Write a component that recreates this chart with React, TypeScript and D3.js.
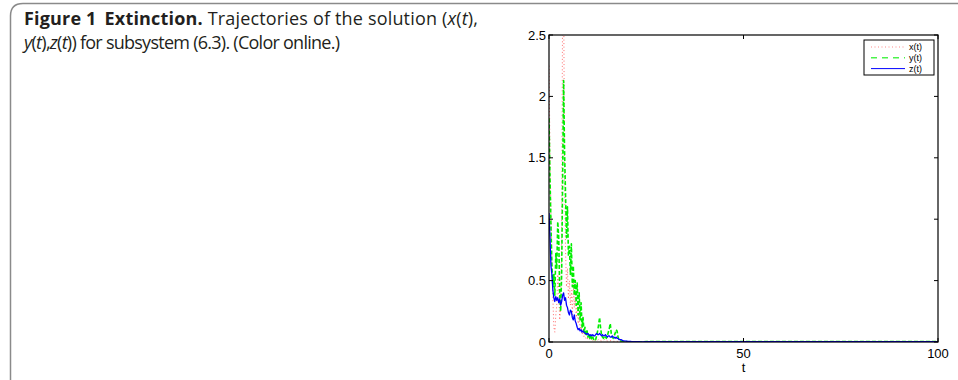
import React from "react";
import * as d3 from "d3";

// Sampling interval of the early, transient part of the trajectories
const STEP = 0.25;

// x(t), y(t), z(t) sampled every STEP from t = 0
const xEarly = [
  2.25, 1.55, 1.05, 0.62, 0.35, 0.12, 0.08, 0.22, 0.3, 0.55, 0.42, 0.18, 0.28, 0.85, 2.8, 2.95,
  1.4, 0.75, 0.45, 0.6, 0.35, 0.5, 0.3, 0.42, 0.22, 0.48, 0.28, 0.4, 0.2, 0.32, 0.15, 0.25,
  0.1, 0.14, 0.06, 0.1, 0.04, 0.06, 0.03, 0.04, 0.02, 0.03, 0.02, 0.015, 0.02, 0.01, 0.015, 0.01,
  0.012, 0.01, 0.015, 0.02, 0.012, 0.01, 0.008, 0.01, 0.012, 0.02, 0.015, 0.01, 0.008, 0.006, 0.008, 0.01,
  0.012, 0.008, 0.006, 0.005, 0.006, 0.008, 0.006, 0.004, 0.004, 0.003, 0.003, 0.003, 0.002, 0.002, 0.002, 0.002,
  0.002, 0.001, 0.001, 0.001, 0.001, 0.001, 0.001, 0.001, 0.001, 0.001, 0.001, 0.001, 0.001, 0.001, 0.001, 0.001,
];
const yEarly = [
  1.82, 1.35, 0.95, 0.62, 0.45, 0.55, 0.38, 0.72, 0.6, 0.98, 0.85, 0.4, 0.25, 0.55, 1.3, 2.13,
  1.55, 1.2, 0.85, 1.1, 0.7, 0.78, 0.55, 0.8, 0.45, 0.62, 0.38, 0.5, 0.3, 0.48, 0.22, 0.4,
  0.18, 0.32, 0.12, 0.2, 0.08, 0.12, 0.05, 0.1, 0.04, 0.07, 0.03, 0.05, 0.02, 0.04, 0.02, 0.03,
  0.02, 0.05, 0.09, 0.14, 0.2, 0.12, 0.06, 0.04, 0.03, 0.05, 0.04, 0.03, 0.05, 0.08, 0.11, 0.15,
  0.07, 0.04, 0.03, 0.05, 0.07, 0.1, 0.09, 0.04, 0.02, 0.01, 0.008, 0.006, 0.005, 0.004, 0.004, 0.003,
  0.003, 0.002, 0.002, 0.002, 0.002, 0.001, 0.001, 0.001, 0.001, 0.001, 0.001, 0.001, 0.001, 0.001, 0.001, 0.001,
];
const zEarly = [
  1.05, 0.85, 0.62, 0.55, 0.42, 0.36, 0.33, 0.37, 0.34, 0.36, 0.32, 0.35, 0.3, 0.33, 0.38, 0.4,
  0.34, 0.36, 0.3, 0.28, 0.24, 0.22, 0.26, 0.25, 0.2, 0.18, 0.22, 0.17, 0.15, 0.12, 0.1, 0.11,
  0.09, 0.1, 0.08, 0.09, 0.08, 0.07, 0.07, 0.06, 0.07, 0.06, 0.05, 0.06, 0.05, 0.06, 0.05, 0.05,
  0.06, 0.07, 0.06, 0.06, 0.07, 0.06, 0.05, 0.06, 0.05, 0.05, 0.06, 0.05, 0.04, 0.05, 0.05, 0.04,
  0.04, 0.05, 0.04, 0.04, 0.03, 0.04, 0.03, 0.03, 0.02, 0.02, 0.02, 0.015, 0.012, 0.01, 0.008, 0.007,
  0.006, 0.005, 0.005, 0.004, 0.004, 0.003, 0.003, 0.003, 0.002, 0.002, 0.002, 0.002, 0.002, 0.002, 0.001, 0.001,
];

// Long-run tail, where all three populations have died out
const tailTimes = [25, 30, 40, 50, 60, 70, 80, 90, 100];
const xTail = [0.001, 0.001, 0.001, 0.001, 0.001, 0.001, 0.001, 0.001, 0.001];
const yTail = [0.003, 0.003, 0.003, 0.003, 0.003, 0.003, 0.003, 0.003, 0.003];
const zTail = [0.002, 0.002, 0.002, 0.002, 0.002, 0.002, 0.002, 0.002, 0.002];

const xTicks = [0, 50, 100];
const yTicks = [0, 0.5, 1, 1.5, 2, 2.5];
const legendLabels = ["x(t)", "y(t)", "z(t)"];

type Pt = [number, number];

function series(early: number[], tail: number[]): Pt[] {
  const pts: Pt[] = early.map((v, i) => [i * STEP, v]);
  tail.forEach((v, i) => pts.push([tailTimes[i], v]));
  return pts;
}

const W = 958;
const H = 380;
const M = { left: 549, right: 938, top: 35, bottom: 342 };

export default function App() {
  const xs = d3.scaleLinear().domain([0, 100]).range([M.left, M.right]);
  const ys = d3.scaleLinear().domain([0, 2.5]).range([M.bottom, M.top]);
  const line = d3
    .line<Pt>()
    .x((d) => xs(d[0]))
    .y((d) => ys(d[1]));

  const styles = [
    { stroke: "#ff3b3b", width: 1, dash: "1,2.5", opacity: 0.75 },
    { stroke: "#00ee00", width: 1.6, dash: "4,2", opacity: 1 },
    { stroke: "#0000ff", width: 1.3, dash: "none", opacity: 1 },
  ];
  const data = [series(xEarly, xTail), series(yEarly, yTail), series(zEarly, zTail)];

  const tick = 4;
  const axisFont = "'Liberation Sans', Arial, sans-serif";
  const capFont = "'Open Sans', 'Noto Sans', sans-serif";

  const lg = { x: 864, y: 40, w: 70, h: 35 };

  return (
    <svg
      width={W}
      height={H}
      style={{ position: "absolute", left: 0, top: 0, background: "#fff" }}
    >
      <defs>
        <clipPath id="plotArea">
          <rect x={M.left} y={M.top} width={M.right - M.left} height={M.bottom - M.top} />
        </clipPath>
      </defs>

      {/* figure frame */}
      <path
        d={`M10.5,${H + 10} L10.5,16 Q10.5,3.5 23,3.5 L${W + 10},3.5`}
        fill="none"
        stroke="#8a8a8a"
        strokeWidth={1.5}
      />

      {/* caption */}
      <text
        x={24}
        y={24.5}
        fontFamily={capFont}
        fontSize={18}
        fill="#231f20"
        textLength={454}
        lengthAdjust="spacing"
      >
        <tspan fontWeight="bold">Figure 1</tspan>
        <tspan fontWeight="bold" dx={8}>Extinction.</tspan>
        <tspan> Trajectories of the solution (</tspan>
        <tspan fontStyle="italic">x</tspan>
        <tspan>(</tspan>
        <tspan fontStyle="italic">t</tspan>
        <tspan>),</tspan>
      </text>
      <text
        x={24}
        y={48.5}
        fontFamily={capFont}
        fontSize={18}
        fill="#231f20"
        textLength={316}
        lengthAdjust="spacing"
      >
        <tspan fontStyle="italic">y</tspan>
        <tspan>(</tspan>
        <tspan fontStyle="italic">t</tspan>
        <tspan>),</tspan>
        <tspan fontStyle="italic">z</tspan>
        <tspan>(</tspan>
        <tspan fontStyle="italic">t</tspan>
        <tspan>)) for subsystem (6.3). (Color online.)</tspan>
      </text>

      {/* trajectories */}
      <g clipPath="url(#plotArea)">
        {data.map((d, i) => (
          <path
            key={i}
            d={line(d) ?? ""}
            fill="none"
            stroke={styles[i].stroke}
            strokeWidth={styles[i].width}
            strokeDasharray={styles[i].dash}
            strokeOpacity={styles[i].opacity}
            strokeLinejoin="round"
          />
        ))}
      </g>

      {/* axes box and ticks */}
      <rect
        x={M.left}
        y={M.top}
        width={M.right - M.left}
        height={M.bottom - M.top}
        fill="none"
        stroke="#000"
        strokeWidth={1.2}
      />
      {xTicks.map((t) => (
        <g key={`xt${t}`}>
          <line x1={xs(t)} x2={xs(t)} y1={M.bottom} y2={M.bottom - tick} stroke="#000" />
          <line x1={xs(t)} x2={xs(t)} y1={M.top} y2={M.top + tick} stroke="#000" />
          <text
            x={xs(t)}
            y={M.bottom + 16}
            textAnchor="middle"
            fontFamily={axisFont}
            fontSize={13}
            fill="#000"
          >
            {t}
          </text>
        </g>
      ))}
      {yTicks.map((v) => (
        <g key={`yt${v}`}>
          <line x1={M.left} x2={M.left + tick} y1={ys(v)} y2={ys(v)} stroke="#000" />
          <line x1={M.right} x2={M.right - tick} y1={ys(v)} y2={ys(v)} stroke="#000" />
          <text
            x={M.left - 3}
            y={ys(v) + 4.5}
            textAnchor="end"
            fontFamily={axisFont}
            fontSize={13}
            fill="#000"
          >
            {v}
          </text>
        </g>
      ))}
      <text
        x={xs(50)}
        y={M.bottom + 30}
        textAnchor="middle"
        fontFamily={axisFont}
        fontSize={13}
        fill="#000"
      >
        t
      </text>

      {/* legend */}
      <rect x={lg.x} y={lg.y} width={lg.w} height={lg.h} fill="#fff" stroke="#000" strokeWidth={1} />
      {legendLabels.map((lab, i) => {
        const cy = lg.y + 7 + i * 10.8;
        return (
          <g key={lab}>
            <line
              x1={lg.x + 7}
              x2={lg.x + 41}
              y1={cy}
              y2={cy}
              stroke={styles[i].stroke}
              strokeWidth={i === 1 ? 1.6 : 1}
              strokeDasharray={i === 1 ? "6,5" : styles[i].dash}
              strokeOpacity={i === 0 ? 0.6 : i === 1 ? 0.7 : 1}
            />
            <text
              x={lg.x + 45}
              y={cy + 3.3}
              fontFamily={axisFont}
              fontSize={9}
              fill="#000"
            >
              {lab}
            </text>
          </g>
        );
      })}
    </svg>
  );
}
